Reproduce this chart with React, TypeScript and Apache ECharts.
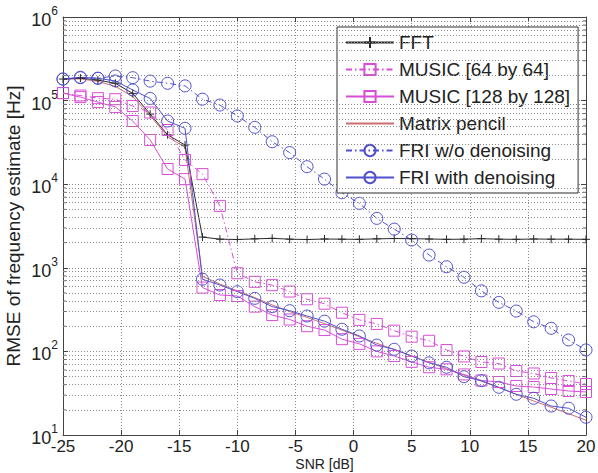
import { useEffect, useRef } from 'react';
import * as echarts from 'echarts';

// SNR sweep in dB
const snr = [
  -25, -23.5, -22, -20.5, -19, -17.5, -16, -14.5, -13, -11.5, -10, -8.5, -7, -5.5, -4,
  -2.5, -1, 0.5, 2, 3.5, 5, 6.5, 8, 9.5, 11, 12.5, 14, 15.5, 17, 18.5, 20,
];

// RMSE of frequency estimate [Hz] per method
const fft = [
  181000, 186000, 176000, 161000, 122000, 69000, 39000, 29400, 2330, 2200, 2180, 2220, 2250, 2200,
  2180, 2210, 2200, 2190, 2220, 2240, 2230, 2210, 2190, 2200, 2230, 2200, 2190, 2210, 2200, 2200, 2190,
];
const music64 = [
  123000, 115000, 107000, 104000, 86000, 72000, 44500, 19500, 13200, 5500, 860, 680, 620, 520, 420,
  372, 290, 238, 213, 177, 150, 134, 104, 87, 74.6, 71.6, 58.3, 54.4, 48.1, 44.3, 40.7,
];
const music128 = [
  123000, 110000, 96000, 84000, 57000, 33800, 15200, 11500, 580, 473, 460, 343, 272, 241, 200,
  180, 140, 123, 100, 88, 75, 64.6, 61, 53, 44.9, 43, 38.6, 37.5, 35.5, 33.6, 32.7,
];
const matrixPencil = [
  180000, 182000, 170000, 148000, 112000, 66000, 37000, 27500, 790, 640, 530, 440, 360, 300, 255,
  215, 180, 150, 125, 105, 88, 74, 62, 52, 44, 37, 30.5, 25.5, 21.5, 18, 15,
];
const friNoDenoise = [
  181000, 188000, 185000, 197000, 188000, 171000, 161000, 150000, 104000, 88500, 65500, 47900, 32200,
  23900, 16200, 11500, 7900, 5900, 3900, 2900, 2150, 1420, 1030, 770, 530, 386, 304, 226, 189, 137, 104,
];
const friDenoise = [
  181000, 190000, 185000, 172000, 134000, 106000, 57000, 46600, 730, 622, 518, 431, 343, 307, 265,
  230, 184, 153, 119, 106, 88, 73, 64.6, 49.8, 44.7, 37.2, 30.7, 27.5, 22.2, 20.9, 16.3,
];

const seriesNames = [
  'FFT',
  'MUSIC [64 by 64]',
  'MUSIC [128 by 128]',
  'Matrix pencil',
  'FRI w/o denoising',
  'FRI with denoising',
];

// minor decade gridlines (2..9 x 10^k)
const minorValues = [
  20, 30, 40, 50, 60, 70, 80, 90,
  200, 300, 400, 500, 600, 700, 800, 900,
  2000, 3000, 4000, 5000, 6000, 7000, 8000, 9000,
  20000, 30000, 40000, 50000, 60000, 70000, 80000, 90000,
  200000, 300000, 400000, 500000, 600000, 700000, 800000, 900000,
];

const FONT = 'Liberation Sans, Arial, Helvetica, sans-serif';
const C_FFT = '#2a2a2a';
const C_MUSIC = '#d84ed8';
const C_PENCIL = '#cd6d6d';
const C_FRI = '#5050cf';
const DASH_DOT = [6, 3, 1.5, 3];
const GRID_COLOR = '#8a8a8a';
const AXIS_COLOR = '#444';

const pair = (ys: number[]) => snr.map((x, i) => [x, ys[i]]);

function lineSeries(name: string, ys: number[], color: string, symbol: string, size: number, dashed: boolean) {
  return {
    name,
    type: 'line',
    data: pair(ys),
    symbol,
    symbolSize: size,
    showSymbol: symbol !== 'none',
    lineStyle: { color, width: 1, type: dashed ? DASH_DOT : 'solid' },
    itemStyle: { color: 'transparent', borderColor: color, borderWidth: 1 },
    emphasis: { disabled: true },
  };
}

export default function App() {
  const ref = useRef<HTMLDivElement>(null);

  useEffect(() => {
    const chart = echarts.init(ref.current!, null, { renderer: 'svg' });

    const option = {
      animation: false,
      backgroundColor: '#fff',
      textStyle: { fontFamily: FONT },
      grid: { left: 63, right: 12, top: 17, bottom: 38, containLabel: false, outerBoundsMode: 'none' },
      legend: {
        orient: 'vertical',
        left: 337,
        top: 27,
        data: seriesNames.map((name) =>
          name === 'Matrix pencil'
            ? { name, itemStyle: { color: 'transparent', borderColor: 'transparent', borderWidth: 0 } }
            : { name }
        ),
        backgroundColor: '#fff',
        borderColor: '#333',
        borderWidth: 1,
        borderRadius: 0,
        padding: [6, 8, 6, 8],
        itemWidth: 48,
        itemHeight: 14,
        itemGap: 8,
        selectedMode: false,
        textStyle: { fontFamily: FONT, fontSize: 19, color: '#222' },
      },
      xAxis: [
        {
          type: 'value',
          min: -25,
          max: 20,
          interval: 5,
          position: 'bottom',
          name: 'SNR [dB]',
          nameLocation: 'middle',
          nameGap: 23,
          nameMoveOverlap: false,
          nameTextStyle: { fontFamily: FONT, fontSize: 14, lineHeight: 12, color: '#222' },
          axisLine: { show: true, lineStyle: { color: AXIS_COLOR, width: 1 } },
          axisTick: { show: true, inside: true, length: 5, lineStyle: { color: AXIS_COLOR } },
          axisLabel: { fontFamily: FONT, fontSize: 17, lineHeight: 13, color: '#222', margin: 5 },
          splitLine: { show: true, lineStyle: { color: GRID_COLOR, type: [1, 2], width: 1 } },
        },
        {
          type: 'value',
          min: -25,
          max: 20,
          interval: 5,
          position: 'top',
          axisLine: { show: true, onZero: false, lineStyle: { color: AXIS_COLOR, width: 1 } },
          axisTick: { show: true, inside: true, length: 5, lineStyle: { color: AXIS_COLOR } },
          axisLabel: { show: false },
          splitLine: { show: false },
        },
      ],
      yAxis: [
        {
          type: 'log',
          logBase: 10,
          min: 10,
          max: 1000000,
          splitNumber: 5,
          position: 'left',
          name: 'RMSE of frequency estimate [Hz]',
          nameLocation: 'middle',
          nameRotate: 90,
          nameGap: 40,
          nameMoveOverlap: false,
          nameTextStyle: { fontFamily: FONT, fontSize: 19, color: '#222' },
          axisLine: { show: true, onZero: false, lineStyle: { color: AXIS_COLOR, width: 1 } },
          axisTick: { show: true, inside: true, length: 5, lineStyle: { color: AXIS_COLOR } },
          axisLabel: {
            margin: 5,
            formatter: (v: number) => `{b|10}{s|${Math.round(Math.log10(v))}}`,
            rich: {
              b: { fontFamily: FONT, fontSize: 18, color: '#222', verticalAlign: 'bottom', lineHeight: 24 },
              s: { fontFamily: FONT, fontSize: 12, color: '#222', verticalAlign: 'top', lineHeight: 12 },
            },
          },
          splitLine: { show: true, lineStyle: { color: GRID_COLOR, type: [1, 2], width: 1 } },
        },
        {
          type: 'log',
          logBase: 10,
          min: 10,
          max: 1000000,
          splitNumber: 5,
          position: 'right',
          axisLine: { show: true, onZero: false, lineStyle: { color: AXIS_COLOR, width: 1 } },
          axisTick: { show: true, inside: true, length: 5, lineStyle: { color: AXIS_COLOR } },
          axisLabel: { show: false },
          splitLine: { show: false },
        },
      ],
      series: [
        {
          name: 'minor-grid',
          type: 'line',
          data: [],
          silent: true,
          markLine: {
            silent: true,
            symbol: ['none', 'none'],
            label: { show: false },
            lineStyle: { color: GRID_COLOR, type: [1, 2], width: 1 },
            emphasis: { disabled: true },
            data: minorValues.map((v) => ({ yAxis: v })),
          },
        },
        {
          name: 'minor-ticks-left',
          type: 'scatter',
          silent: true,
          clip: false,
          symbol: 'rect',
          symbolSize: [3, 1],
          symbolOffset: [1.5, 0],
          itemStyle: { color: AXIS_COLOR },
          data: minorValues.map((v) => [-25, v]),
        },
        {
          name: 'minor-ticks-right',
          type: 'scatter',
          silent: true,
          clip: false,
          symbol: 'rect',
          symbolSize: [3, 1],
          symbolOffset: [-1.5, 0],
          itemStyle: { color: AXIS_COLOR },
          data: minorValues.map((v) => [20, v]),
        },
        lineSeries('Matrix pencil', matrixPencil, C_PENCIL, 'none', 0, false),
        lineSeries('FFT', fft, C_FFT, 'path://M0,5L10,5M5,0L5,10', 8, false),
        lineSeries('MUSIC [64 by 64]', music64, C_MUSIC, 'rect', 11, true),
        lineSeries('MUSIC [128 by 128]', music128, C_MUSIC, 'rect', 11, false),
        lineSeries('FRI w/o denoising', friNoDenoise, C_FRI, 'circle', 12, true),
        lineSeries('FRI with denoising', friDenoise, C_FRI, 'circle', 12, false),
      ],
    };

    chart.setOption(option as any);
    return () => chart.dispose();
  }, []);

  return (
    <div
      ref={ref}
      style={{ position: 'absolute', left: 0, top: 0, width: 598, height: 473 }}
    />
  );
}
